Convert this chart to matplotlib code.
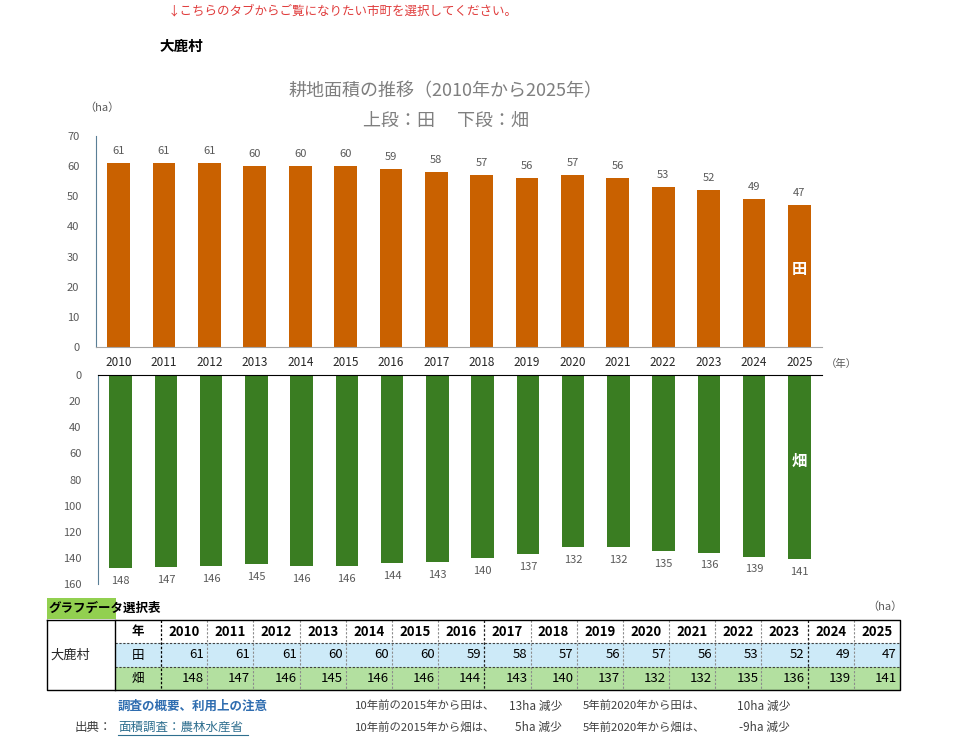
import numpy as np
import matplotlib
matplotlib.use('Agg')
import matplotlib.pyplot as plt
from matplotlib.patches import Rectangle

# 日本語フォント
plt.rcParams['font.family'] = ['Noto Sans CJK JP', 'DejaVu Sans']

# === データ ===
village = '大鹿村'
years = [2010, 2011, 2012, 2013, 2014, 2015, 2016, 2017,
         2018, 2019, 2020, 2021, 2022, 2023, 2024, 2025]
ta = [61, 61, 61, 60, 60, 60, 59, 58, 57, 56, 57, 56, 53, 52, 49, 47]
hata = [148, 147, 146, 145, 146, 146, 144, 143, 140, 137, 132, 132, 135, 136, 139, 141]
ta_ticks = [0, 10, 20, 30, 40, 50, 60, 70]
hata_ticks = [0, 20, 40, 60, 80, 100, 120, 140, 160]
notes_10y = ['10年前の2015年から田は、', '10年前の2015年から畑は、']
notes_10y_val = ['13ha 減少', '5ha 減少']
notes_5y = ['5年前2020年から田は、', '5年前2020年から畑は、']
notes_5y_val = ['10ha 減少', '-9ha 減少']

W, H = 960, 739
c_ta = '#c96100'
c_hata = '#3a7d22'
c_tick = '#595959'
c_spine = '#5a7f96'

fig = plt.figure(figsize=(W / 100, H / 100), dpi=100)
x = np.arange(len(years))

def fr(l, t, r, b):
    return [l / W, 1 - b / H, (r - l) / W, (b - t) / H]

# === 上段：田 ===
ax1 = fig.add_axes(fr(96, 136, 822, 347))
ax1.bar(x, ta, width=0.5, color=c_ta)
ax1.set_xlim(-0.5, len(years) - 0.5)
ax1.set_ylim(0, 70)
ax1.set_yticks(ta_ticks)
ax1.set_xticks([])
for s in ['top', 'right']:
    ax1.spines[s].set_visible(False)
ax1.spines['left'].set_color(c_spine)
ax1.spines['bottom'].set_color('#a6a6a6')
ax1.tick_params(axis='y', length=0, labelsize=8, labelcolor=c_tick, pad=12)
for xi, v in zip(x, ta):
    ax1.text(xi, v + 2.5, str(v), ha='center', va='bottom', fontsize=8, color=c_tick)
ax1.text(len(years) - 1, 26, '田', ha='center', va='center', fontsize=11,
         color='white', fontweight='bold')

# === 下段：畑 ===
ax2 = fig.add_axes(fr(98, 375, 822, 584))
ax2.bar(x, hata, width=0.5, color=c_hata)
ax2.set_xlim(-0.5, len(years) - 0.5)
ax2.set_ylim(160, 0)
ax2.set_yticks(hata_ticks)
ax2.set_xticks([])
for s in ['bottom', 'right']:
    ax2.spines[s].set_visible(False)
ax2.spines['left'].set_color(c_spine)
ax2.spines['top'].set_color('black')
ax2.tick_params(axis='y', length=0, labelsize=8, labelcolor=c_tick, pad=12)
for xi, v in zip(x, hata):
    ax2.text(xi, v + 6, str(v), ha='center', va='top', fontsize=8, color=c_tick)
ax2.text(len(years) - 1, 66, '畑', ha='center', va='center', fontsize=11,
         color='white', fontweight='bold')

# 年ラベル（上下段の間）
for xi, yr in zip(x, years):
    ax1.annotate(str(yr), xy=(xi, 0), xycoords='data', xytext=(0, -11),
                 textcoords='offset points', ha='center', va='center',
                 fontsize=8.5, color='#262626')
ax1.annotate('（年）', xy=(len(years) - 0.5, 0), xycoords='data', xytext=(14, -12),
             textcoords='offset points', ha='center', va='center',
             fontsize=7.5, color=c_tick)

# === 全体の文字・表（ピクセル座標） ===
ov = fig.add_axes([0, 0, 1, 1], zorder=-1)
ov.set_xlim(0, W)
ov.set_ylim(H, 0)
ov.axis('off')

ov.text(168, 11, '↓こちらのタブからご覧になりたい市町を選択してください。',
        fontsize=9, color='#e03c3c', va='center')
ov.text(160, 46, village, fontsize=10.5, fontweight='bold', va='center')
ov.text(446, 91, '耕地面積の推移（2010年から2025年）', fontsize=13,
        color='#7f7f7f', ha='center', va='center')
ov.text(446, 121, '上段：田　 下段：畑', fontsize=13,
        color='#7f7f7f', ha='center', va='center')
ov.text(102, 108, '（ha）', fontsize=8, color=c_tick, ha='center', va='center')

# 表
ov.add_patch(Rectangle((47, 598), 69, 21, color='#92d050', lw=0))
ov.text(49, 608, 'グラフデータ選択表', fontsize=9, fontweight='bold', va='center')
ov.text(885, 607, '（ha）', fontsize=8, color=c_tick, ha='center', va='center')

t_top, r1, r2, t_bot = 620, 643, 667, 690
x0, x1 = 47, 115
x2 = 161
cw = (900 - x2) / len(years)
x_end = x2 + cw * len(years)
ov.add_patch(Rectangle((x1, r1), x_end - x1, r2 - r1, color='#cdeaf8', lw=0))
ov.add_patch(Rectangle((x1, r2), x_end - x1, t_bot - r2, color='#b3e0a0', lw=0))
for yy in [r1, r2]:
    ov.plot([x1, x_end], [yy, yy], color='#404040', lw=0.8, ls=(0, (2, 1.5)))
for i in range(1, len(years)):
    xl = x2 + cw * i
    dark = i in (7, 14)
    ov.plot([xl, xl], [t_top, t_bot], color='#202020' if dark else '#8c8c8c',
            lw=0.9 if dark else 0.8, ls=(0, (2, 1.5)))
ov.plot([x0, x_end, x_end, x0, x0], [t_top, t_top, t_bot, t_bot, t_top], color='black', lw=1)
ov.plot([x1, x1], [t_top, t_bot], color='black', lw=1)
ov.plot([x2, x2], [t_top, t_bot], color='black', lw=0.9, ls=(0, (2, 1.5)))
ov.text(50, (r1 + r2) / 2, village, fontsize=9.5, va='center', color='#262626')
ov.text((x1 + x2) / 2, (t_top + r1) / 2, '年', fontsize=9, fontweight='bold',
        ha='center', va='center')
ov.text((x1 + x2) / 2, (r1 + r2) / 2, '田', fontsize=9, ha='center', va='center')
ov.text((x1 + x2) / 2, (r2 + t_bot) / 2, '畑', fontsize=9, ha='center', va='center')
for i, (yr, a, b) in enumerate(zip(years, ta, hata)):
    xl = x2 + cw * i
    ov.text(xl + cw / 2, (t_top + r1) / 2, str(yr), fontsize=9.5, fontweight='bold',
            ha='center', va='center')
    ov.text(xl + cw - 3, (r1 + r2) / 2, str(a), fontsize=9.5, ha='right', va='center')
    ov.text(xl + cw - 3, (r2 + t_bot) / 2, str(b), fontsize=9.5, ha='right', va='center')

# 注記
ov.text(118, 706, '調査の概要、利用上の注意', fontsize=9, fontweight='bold',
        color='#2f6db0', va='center')
ov.text(75, 727, '出典：', fontsize=9, color='#404040', va='center')
ov.text(118, 727, '面積調査：農林水産省', fontsize=9, color='#2f6f8f', va='center')
ov.plot([118, 248], [735, 735], color='#2f6f8f', lw=0.8)
for k, yy in enumerate([706, 727]):
    ov.text(355, yy, notes_10y[k], fontsize=8.2, color='#404040', va='center')
    ov.text(562, yy, notes_10y_val[k], fontsize=8.5, color='#404040', va='center', ha='right')
    ov.text(583, yy, notes_5y[k], fontsize=8.2, color='#404040', va='center')
    ov.text(790, yy, notes_5y_val[k], fontsize=8.5, color='#404040', va='center', ha='right')

fig.savefig('out.png', dpi=100)
